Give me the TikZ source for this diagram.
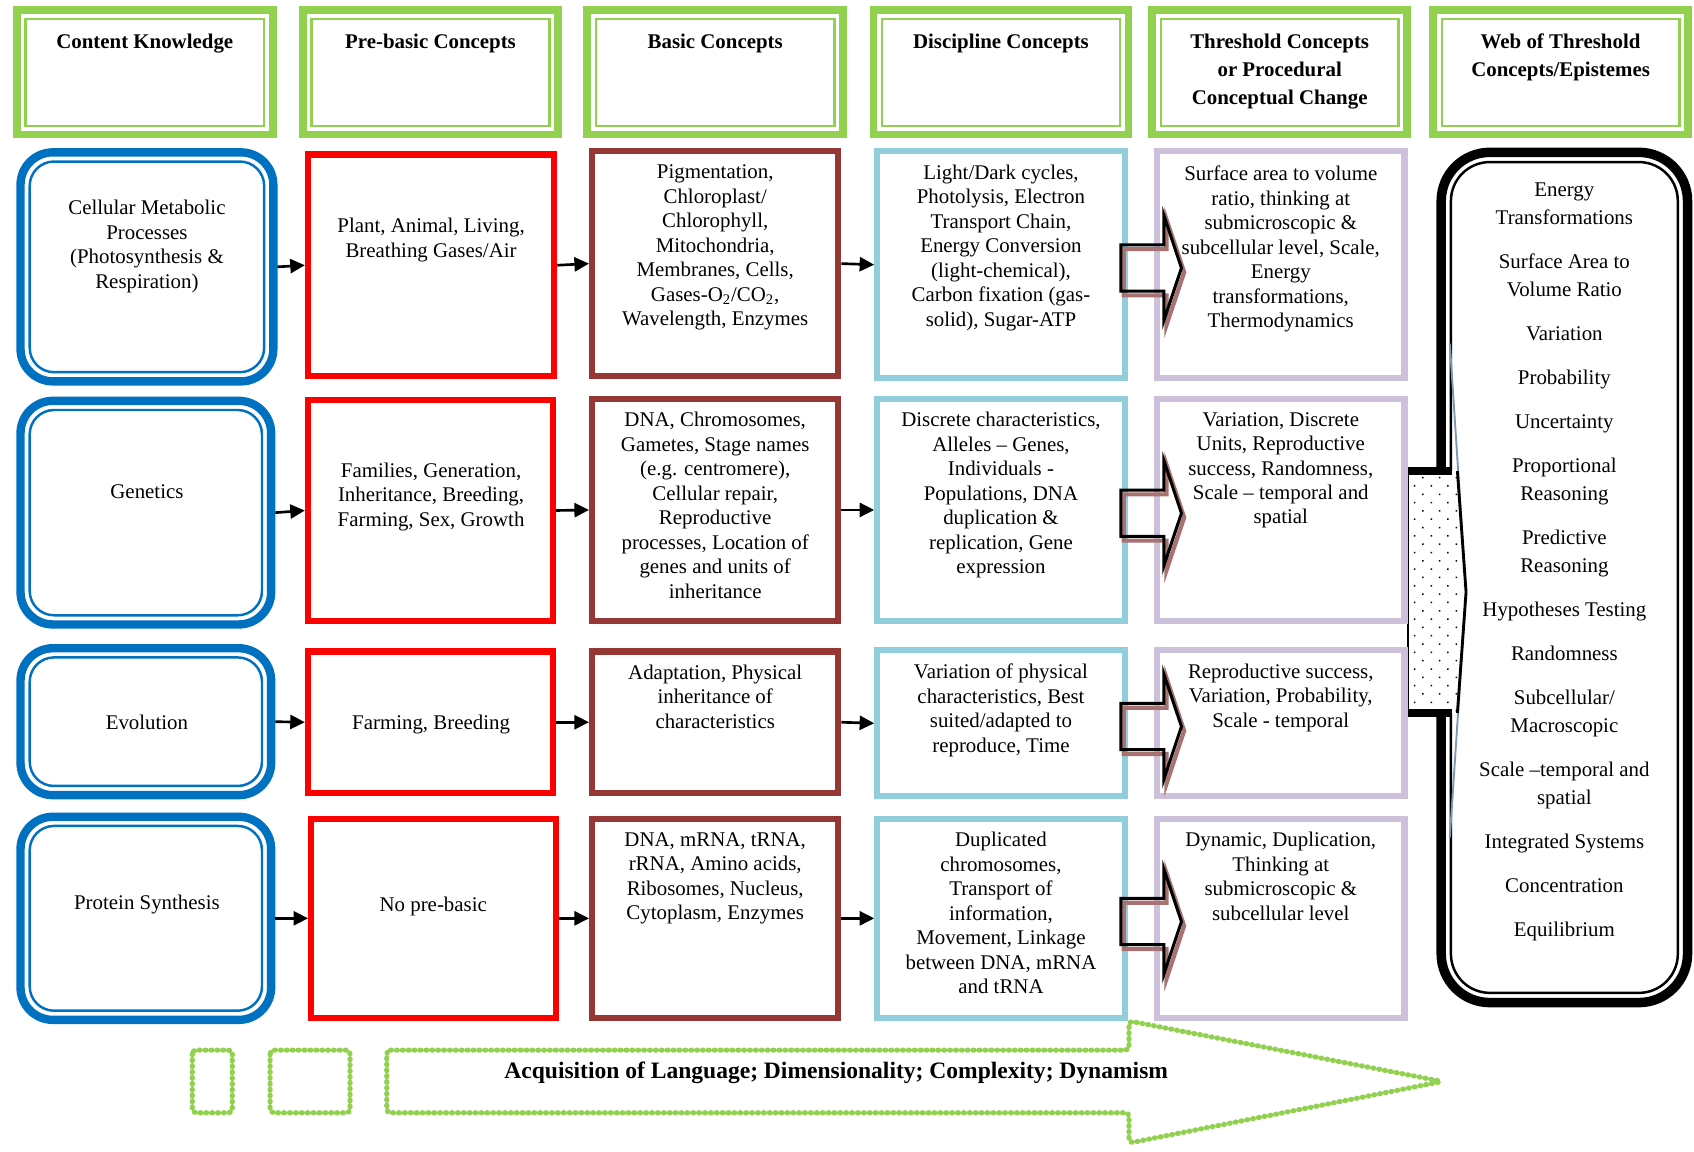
\documentclass[tikz,border=0pt]{standalone}
\usepackage{fontspec}
\setmainfont{Liberation Serif}
\usepackage{tikz}
\usetikzlibrary{arrows.meta,shapes.arrows,fit,calc,patterns.meta}

\definecolor{hdrgreen}{HTML}{92D050}
\definecolor{ckblue}{HTML}{0070C0}
\definecolor{prered}{HTML}{FF0000}
\definecolor{basicbrown}{HTML}{953735}
\definecolor{discblue}{HTML}{92CDDC}
\definecolor{threshlilac}{HTML}{CCC0DA}
\definecolor{shadebrown}{HTML}{A87272}
\definecolor{slategray}{HTML}{8497B0}

\tikzset{
  every node/.style={
    font=\fontsize{11}{12.9}\selectfont
  },
  celltext/.style={
    align=center,
    inner sep=0pt
  },
  headtext/.style={
    font=\bfseries\fontsize{11}{14.7}\selectfont,
    align=center,
    inner sep=0pt
  },
  header/.style={
    draw=hdrgreen,
    line width=4pt,
    inner sep=0pt,
    path picture={
      \draw[hdrgreen, line width=1.3pt, sharp corners]
        ([shift={(0.16cm,0.16cm)}]path picture bounding box.south west) rectangle
        ([shift={(-0.16cm,-0.16cm)}]path picture bounding box.north east);
    }
  },
  content/.style={
    draw=ckblue,
    line width=4.4pt,
    rounded corners=0.6cm,
    inner sep=0pt,
    path picture={
      \draw[ckblue, line width=1.3pt, rounded corners=0.45cm]
        ([shift={(0.17cm,0.17cm)}]path picture bounding box.south west) rectangle
        ([shift={(-0.17cm,-0.17cm)}]path picture bounding box.north east);
    }
  },
  webbox/.style={
    draw=black,
    line width=5pt,
    rounded corners=0.9cm,
    inner sep=0pt,
    path picture={
      \draw[black, line width=1.3pt, rounded corners=0.72cm]
        ([shift={(0.18cm,0.18cm)}]path picture bounding box.south west) rectangle
        ([shift={(-0.18cm,-0.18cm)}]path picture bounding box.north east);
    }
  },
  prebasic/.style={draw=prered, line width=3.2pt, inner sep=0pt},
  basic/.style={draw=basicbrown, line width=3.2pt, inner sep=0pt},
  discipline/.style={draw=discblue, line width=3.2pt, inner sep=0pt},
  threshold/.style={draw=threshlilac, line width=3.2pt, inner sep=0pt},
  conn/.style={
    line width=1.4pt,
    -{Triangle[length=0.27cm,width=0.26cm]}
  },
  shiftarrow/.style={
    single arrow,
    draw=black,
    line width=1.6pt,
    inner xsep=0pt,
    inner ysep=0.4cm,
    minimum height=1.12cm,
    minimum width=1.9cm,
    single arrow head extend=0.55cm,
    single arrow tip angle=143,
    preaction={draw=shadebrown, line width=2.2pt, transform canvas={shift={(0.05cm,-0.08cm)}}}
  },
  langdots/.style={
    draw=hdrgreen,
    line width=2.7pt,
    dash pattern=on 0.5pt off 2.6pt,
    line cap=round,
    rounded corners=2pt
  }
}

\begin{document}
\begin{tikzpicture}[x=0.02cm, y=-0.02cm]
  \useasboundingbox (0,0) rectangle (1568,1066);

  \node[header, fit={(15.5,9.5) (252.5,124.5)}] (hck) {};
  \node[header, fit={(280.5,9.5) (516.5,124.5)}] (hpb) {};
  \node[header, fit={(543.5,9.5) (780.5,124.5)}] (hbc) {};
  \node[header, fit={(808.5,9.5) (1044.5,124.5)}] (hdc) {};
  \node[header, fit={(1066.5,9.5) (1302.5,124.5)}] (htc) {};
  \node[header, fit={(1326.5,9.5) (1562.5,124.5)}] (hwt) {};
  \node[headtext, anchor=north] (hckt) at ([yshift=-0.5cm]hck.north) {Content Knowledge};
  \node[headtext, anchor=north] (hpbt) at ([yshift=-0.5cm]hpb.north) {Pre-basic Concepts};
  \node[headtext, anchor=north] (hbct) at ([yshift=-0.5cm]hbc.north) {Basic Concepts};
  \node[headtext, anchor=north] (hdct) at ([yshift=-0.5cm]hdc.north) {Discipline Concepts};
  \node[headtext, anchor=north] (htct) at ([yshift=-0.5cm]htc.north) {Threshold Concepts\\or Procedural\\Conceptual Change};
  \node[headtext, anchor=north] (hwtt) at ([yshift=-0.5cm]hwt.north) {Web of Threshold\\Concepts/Epistemes};

  \node[webbox, fit={(1334,141) (1562,928)}] (web) {};
  \node[celltext, font=\fontsize{11}{14.7}\selectfont, anchor=north] (webt) at ([yshift=-0.65cm]web.north) {Energy\\Transformations\\[8.5pt]Surface Area to\\Volume Ratio\\[8.5pt]Variation\\[8.5pt]Probability\\[8.5pt]Uncertainty\\[8.5pt]Proportional\\Reasoning\\[8.5pt]Predictive\\Reasoning\\[8.5pt]Hypotheses Testing\\[8.5pt]Randomness\\[8.5pt]Subcellular/\\Macroscopic\\[8.5pt]Scale --temporal and\\spatial\\[8.5pt]Integrated Systems\\[8.5pt]Concentration\\[8.5pt]Equilibrium};

  \fill[white] (1303,436) -- (1349,436) -- (1357,548) -- (1349,660) -- (1303,660) -- cycle;
  \fill[pattern={Dots[radius=0.55pt,distance=6.2pt,angle=45]}] (1303,436) -- (1349,436) -- (1357,548) -- (1349,660) -- (1303,660) -- cycle;
  \draw[slategray, line width=1pt] (1342,318) -- (1357,548) -- (1342,775);
  \draw[line width=1.5pt] (1349,436) -- (1357,548) -- (1349,660);
  \draw[line width=1pt] (1303,436) -- (1303,660);
  \draw[line width=4pt] (1303,436) -- (1344,436);
  \draw[line width=4pt] (1303,660) -- (1344,660);

  \node[content, fit={(19,141) (253,353)}] (k1) {};
  \node[celltext] (k1t) at (136,228) {Cellular Metabolic\\Processes\\(Photosynthesis \&\\Respiration)};
  \node[prebasic, fit={(285,143) (513,348)}] (p1) {};
  \node[celltext] (p1t) at (399,222) {Plant, Animal, Living,\\Breathing Gases/Air};
  \node[basic, fit={(548,140) (776,348)}] (b1) {};
  \node[celltext, anchor=north] (b1t) at ([yshift=-0.3cm]b1.north) {Pigmentation,\\Chloroplast/\\Chlorophyll,\\Mitochondria,\\Membranes, Cells,\\Gases-O\textsubscript{2}/CO\textsubscript{2},\\Wavelength, Enzymes};
  \node[discipline, fit={(812,140) (1041,350)}] (d1) {};
  \node[celltext, anchor=north] (d1t) at ([yshift=-0.3cm]d1.north) {Light/Dark cycles,\\Photolysis, Electron\\Transport Chain,\\Energy Conversion\\(light-chemical),\\Carbon fixation (gas-\\solid), Sugar-ATP};
  \node[threshold, fit={(1071,140) (1300,350)}] (t1) {};
  \node[celltext, anchor=north] (t1t) at ([yshift=-0.32cm]t1.north) {Surface area to volume\\ratio, thinking at\\submicroscopic \&\\subcellular level, Scale,\\Energy\\transformations,\\Thermodynamics};

  \node[content, fit={(19,371) (251,578)}] (k2) {};
  \node[celltext] (k2t) at (136,455) {Genetics};
  \node[prebasic, fit={(285,370) (512,575)}] (p2) {};
  \node[celltext] (p2t) at (399,460) {Families, Generation,\\Inheritance, Breeding,\\Farming, Sex, Growth};
  \node[basic, fit={(548,369) (776,575)}] (b2) {};
  \node[celltext, anchor=north] (b2t) at ([yshift=-0.3cm]b2.north) {DNA, Chromosomes,\\Gametes, Stage names\\(e.g. centromere),\\Cellular repair,\\Reproductive\\processes, Location of\\genes and units of\\inheritance};
  \node[discipline, fit={(812,369) (1041,575)}] (d2) {};
  \node[celltext, anchor=north] (d2t) at ([yshift=-0.3cm]d2.north) {Discrete characteristics,\\Alleles -- Genes,\\Individuals -\\Populations, DNA\\duplication \&\\replication, Gene\\expression};
  \node[threshold, fit={(1071,369) (1300,575)}] (t2) {};
  \node[celltext, anchor=north] (t2t) at ([yshift=-0.3cm]t2.north) {Variation, Discrete\\Units, Reproductive\\success, Randomness,\\Scale -- temporal and\\spatial};

  \node[content, fit={(19,600) (251,736)}] (k3) {};
  \node[celltext] (k3t) at (136,669) {Evolution};
  \node[prebasic, fit={(285,603) (512,734)}] (p3) {};
  \node[celltext] (p3t) at (399,671) {Farming, Breeding};
  \node[basic, fit={(548,603) (776,734)}] (b3) {};
  \node[celltext, anchor=north] (b3t) at ([yshift=-0.3cm]b3.north) {Adaptation, Physical\\inheritance of\\characteristics};
  \node[discipline, fit={(812,602) (1041,737)}] (d3) {};
  \node[celltext, anchor=north] (d3t) at ([yshift=-0.3cm]d3.north) {Variation of physical\\characteristics, Best\\suited/adapted to\\reproduce, Time};
  \node[threshold, fit={(1071,602) (1300,737)}] (t3) {};
  \node[celltext, anchor=north] (t3t) at ([yshift=-0.3cm]t3.north) {Reproductive success,\\Variation, Probability,\\Scale - temporal};

  \node[content, fit={(19,756) (251,944)}] (k4) {};
  \node[celltext] (k4t) at (136,837) {Protein Synthesis};
  \node[prebasic, fit={(288,758) (515,942)}] (p4) {};
  \node[celltext] (p4t) at (401,839) {No pre-basic};
  \node[basic, fit={(548,758) (776,942)}] (b4) {};
  \node[celltext, anchor=north] (b4t) at ([yshift=-0.3cm]b4.north) {DNA, mRNA, tRNA,\\rRNA, Amino acids,\\Ribosomes, Nucleus,\\Cytoplasm, Enzymes};
  \node[discipline, fit={(812,758) (1041,942)}] (d4) {};
  \node[celltext, anchor=north] (d4t) at ([yshift=-0.3cm]d4.north) {Duplicated\\chromosomes,\\Transport of\\information,\\Movement, Linkage\\between DNA, mRNA\\and tRNA};
  \node[threshold, fit={(1071,758) (1300,942)}] (t4) {};
  \node[celltext, anchor=north] (t4t) at ([yshift=-0.3cm]t4.north) {Dynamic, Duplication,\\Thinking at\\submicroscopic \&\\subcellular level};

  \foreach \r in {1,...,4}{
    \draw[conn] (k\r.east) -- (p\r.west);
    \draw[conn] (p\r.east) -- (b\r.west);
    \draw[conn] (b\r.east) -- (d\r.west);
    \node[shiftarrow] (sa\r) at ($(d\r.east)!0.5!(t\r.west)+(6,3)$) {};
  }

  \draw[langdots] (178,972) rectangle (215,1030);
  \draw[langdots] (250,972) rectangle (324,1030);
  \draw[langdots] (358,972) -- (1045,972) -- (1045,945) -- (1335,1001) -- (1045,1058) -- (1045,1030) -- (358,1030) -- cycle;
  \node[font=\bfseries\fontsize{12.4}{14}\selectfont, inner sep=0pt] (lang) at (774,993) {Acquisition of Language; Dimensionality; Complexity; Dynamism};
\end{tikzpicture}
\end{document}
